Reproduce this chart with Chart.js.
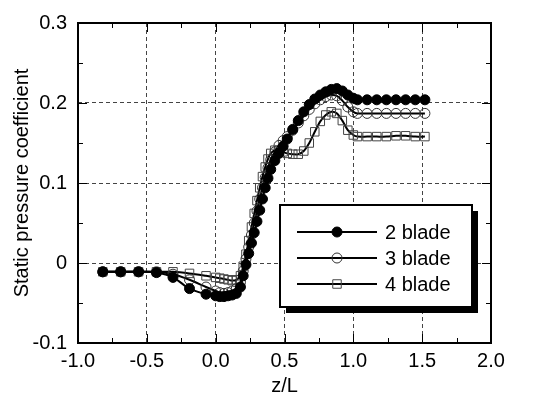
<!DOCTYPE html>
<html lang="en">
<head>
    <meta charset="utf-8">
    <title>Static pressure coefficient</title>
    <script src="https://cdn.jsdelivr.net/npm/chart.js"></script>
    <style>
        html, body { margin: 0; padding: 0; background: #fff; }
        .chart-container { width: 536px; height: 393px; }
    </style>
</head>
<body>
    <div class="chart-container">
        <canvas id="cpChart" width="536" height="393"></canvas>
    </div>

    <script>
        // measurement stations (z/L), shared by all three rotors
        const zValues = [-0.82, -0.69, -0.56, -0.43, -0.31, -0.19, -0.07, 0.0, 0.03, 0.06,
            0.09, 0.12, 0.15, 0.18, 0.20, 0.22, 0.24, 0.26, 0.28, 0.30,
            0.32, 0.34, 0.36, 0.38, 0.40, 0.43, 0.46, 0.49, 0.52, 0.56,
            0.60, 0.64, 0.68, 0.72, 0.76, 0.80, 0.84, 0.88, 0.92, 0.96,
            1.00, 1.03, 1.10, 1.17, 1.24, 1.31, 1.38, 1.45, 1.52];

        const blade2 = [-0.011, -0.011, -0.011, -0.012, -0.018, -0.032, -0.039, -0.041, -0.042, -0.042,
            -0.041, -0.040, -0.038, -0.030, -0.016, -0.002, 0.012, 0.025, 0.038, 0.052,
            0.066, 0.080, 0.094, 0.106, 0.117, 0.128, 0.137, 0.146, 0.155, 0.167,
            0.178, 0.189, 0.198, 0.205, 0.210, 0.214, 0.217, 0.218, 0.215, 0.210,
            0.206, 0.204, 0.204, 0.204, 0.204, 0.204, 0.204, 0.204, 0.204];

        const blade3 = [-0.011, -0.011, -0.011, -0.011, -0.014, -0.021, -0.030, -0.035, -0.037, -0.038,
            -0.037, -0.035, -0.032, -0.024, -0.010, 0.005, 0.020, 0.035, 0.050, 0.065,
            0.080, 0.094, 0.107, 0.119, 0.129, 0.139, 0.147, 0.153, 0.158, 0.166,
            0.175, 0.184, 0.192, 0.199, 0.204, 0.208, 0.210, 0.209, 0.203, 0.195,
            0.189, 0.187, 0.187, 0.187, 0.187, 0.187, 0.187, 0.187, 0.187];

        const blade4 = [-0.011, -0.011, -0.011, -0.011, -0.011, -0.013, -0.016, -0.018, -0.019, -0.020,
            -0.021, -0.022, -0.021, -0.016, -0.004, 0.011, 0.028, 0.045, 0.062, 0.078,
            0.094, 0.108, 0.120, 0.130, 0.137, 0.141, 0.141, 0.139, 0.137, 0.136,
            0.136, 0.140, 0.150, 0.164, 0.177, 0.185, 0.189, 0.187, 0.178, 0.166,
            0.160, 0.158, 0.158, 0.158, 0.158, 0.159, 0.159, 0.158, 0.158];

        const seriesNames = ['2 blade', '3 blade', '4 blade'];
        const xTickLabels = ['-1.0', '-0.5', '0.0', '0.5', '1.0', '1.5', '2.0'];
        const yTickLabels = ['-0.1', '0', '0.1', '0.2', '0.3'];

        const FONT = '"Liberation Sans", Arial, sans-serif';

        function toPoints(ys) {
            return zValues.map((z, i) => ({ x: z, y: ys[i] }));
        }

        // frame, inward ticks (major + minor) and the boxed legend with shadow
        const framePlugin = {
            id: 'frame',
            afterDraw(chart) {
                const ctx = chart.ctx;
                const a = chart.chartArea;
                const xs = chart.scales.x, ys = chart.scales.y;
                ctx.save();
                ctx.strokeStyle = '#000';
                ctx.lineWidth = 1;
                ctx.beginPath();
                for (let v = -1; v <= 2.001; v += 0.25) {
                    const px = Math.round(xs.getPixelForValue(v)) + 0.5;
                    const len = Math.abs(v * 2 - Math.round(v * 2)) < 0.01 ? 9 : 5;
                    ctx.moveTo(px, a.bottom); ctx.lineTo(px, a.bottom - len);
                    ctx.moveTo(px, a.top); ctx.lineTo(px, a.top + len);
                }
                for (let v = -0.1; v <= 0.301; v += 0.05) {
                    const py = Math.round(ys.getPixelForValue(v)) + 0.5;
                    const len = Math.abs(v * 10 - Math.round(v * 10)) < 0.01 ? 9 : 5;
                    ctx.moveTo(a.left, py); ctx.lineTo(a.left + len, py);
                    ctx.moveTo(a.right, py); ctx.lineTo(a.right - len, py);
                }
                ctx.stroke();

                ctx.lineWidth = 2;
                ctx.strokeRect(a.left, a.top, a.right - a.left, a.bottom - a.top);

                // legend box
                const bx = 280, by = 205, bw = 192, bh = 102;
                ctx.fillStyle = '#000';
                ctx.fillRect(bx + 6, by + 6, bw, bh);
                ctx.fillStyle = '#fff';
                ctx.fillRect(bx, by, bw, bh);
                ctx.strokeRect(bx, by, bw, bh);

                ctx.font = '20px ' + FONT;
                ctx.textAlign = 'left';
                ctx.textBaseline = 'middle';
                chart.data.datasets.forEach((ds, i) => {
                    const ry = by + 27 + i * 26;
                    ctx.strokeStyle = '#000';
                    ctx.lineWidth = 2;
                    ctx.beginPath();
                    ctx.moveTo(bx + 17, ry); ctx.lineTo(bx + 97, ry);
                    ctx.stroke();
                    ctx.fillStyle = ds.pointBackgroundColor;
                    ctx.strokeStyle = ds.pointBorderColor;
                    ctx.lineWidth = ds.pointBorderWidth;
                    ctx.beginPath();
                    if (ds.pointStyle === 'rect') {
                        const s = ds.pointRadius * Math.SQRT1_2;
                        ctx.rect(bx + 57 - s, ry - s, 2 * s, 2 * s);
                    } else {
                        ctx.arc(bx + 57, ry, ds.pointRadius, 0, Math.PI * 2);
                    }
                    ctx.fill();
                    ctx.stroke();
                    ctx.fillStyle = '#000';
                    ctx.fillText(ds.label, bx + 105, ry + 1);
                });
                ctx.restore();
            }
        };

        const ctx = document.getElementById('cpChart').getContext('2d');
        new Chart(ctx, {
            type: 'scatter',
            data: {
                datasets: [{
                    label: seriesNames[0],
                    data: toPoints(blade2),
                    showLine: true,
                    borderColor: '#000',
                    borderWidth: 2,
                    tension: 0.3,
                    pointStyle: 'circle',
                    pointRadius: 5,
                    pointBackgroundColor: '#000',
                    pointBorderColor: '#000',
                    pointBorderWidth: 1
                }, {
                    label: seriesNames[1],
                    data: toPoints(blade3),
                    showLine: true,
                    borderColor: '#000',
                    borderWidth: 2,
                    tension: 0.3,
                    pointStyle: 'circle',
                    pointRadius: 5,
                    pointBackgroundColor: 'rgba(255,255,255,0)',
                    pointBorderColor: '#333',
                    pointBorderWidth: 1
                }, {
                    label: seriesNames[2],
                    data: toPoints(blade4),
                    showLine: true,
                    borderColor: '#000',
                    borderWidth: 2,
                    tension: 0.3,
                    pointStyle: 'rect',
                    pointRadius: 6,
                    pointBackgroundColor: 'rgba(255,255,255,0)',
                    pointBorderColor: '#444',
                    pointBorderWidth: 1
                }]
            },
            options: {
                responsive: false,
                animation: false,
                layout: { padding: { top: 15, right: 45, bottom: 0, left: 0 } },
                plugins: {
                    legend: { display: false },
                    tooltip: { enabled: false }
                },
                scales: {
                    x: {
                        type: 'linear',
                        min: -1,
                        max: 2,
                        afterFit: (scale) => { scale.height = 50; },
                        ticks: {
                            stepSize: 0.5,
                            padding: 6,
                            color: '#000',
                            font: { family: FONT, size: 20 },
                            callback: (value, index) => xTickLabels[index]
                        },
                        grid: { color: '#444', lineWidth: 1, drawTicks: false },
                        border: { display: false, dash: [4, 3] },
                        title: {
                            display: true,
                            text: 'z/L',
                            color: '#000',
                            font: { family: FONT, size: 20 },
                            padding: { top: 0, bottom: -5 }
                        }
                    },
                    y: {
                        type: 'linear',
                        min: -0.1,
                        max: 0.3,
                        afterFit: (scale) => { scale.width = 78; },
                        ticks: {
                            stepSize: 0.1,
                            padding: 11,
                            color: '#000',
                            font: { family: FONT, size: 20 },
                            callback: (value, index) => yTickLabels[index]
                        },
                        grid: { color: '#444', lineWidth: 1, drawTicks: false },
                        border: { display: false, dash: [4, 3] },
                        title: {
                            display: true,
                            text: 'Static pressure coefficient',
                            color: '#000',
                            font: { family: FONT, size: 20 },
                            padding: { top: 10, bottom: 0 }
                        }
                    }
                }
            },
            plugins: [framePlugin]
        });
    </script>
</body>
</html>
